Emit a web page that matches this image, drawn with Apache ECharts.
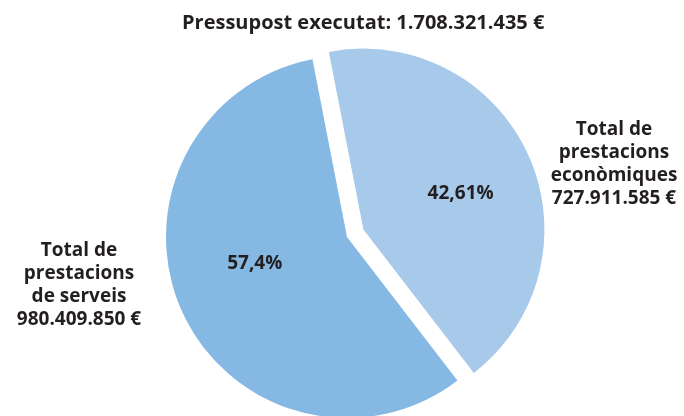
<!DOCTYPE html>
<html>
<head>
<meta charset="utf-8">
<script src="https://cdn.jsdelivr.net/npm/echarts@6/dist/echarts.min.js"></script>
<style>html,body{margin:0;padding:0;background:#fff}#c{width:684px;height:416px}</style>
</head>
<body>
<div id="c"></div>
<script>
var titleText = 'Pressupost executat: 1.708.321.435 €';
var categories = ['Total de prestacions econòmiques', 'Total de prestacions de serveis'];
var values = [727911585, 980409850];
var percentLabels = ['42,61%', '57,4%'];
var outerLabels = [
  ['Total de', 'prestacions', 'econòmiques', '727.911.585 €'],
  ['Total de', 'prestacions', 'de serveis', '980.409.850 €']
];
var colors = ['#a7c9ea', '#85b8e3'];

var FONT = '"Open Sans", sans-serif';
var TXT = '#231f20';
function block(lines, cx, cy) {
  return {
    type: 'text', x: cx, y: cy, silent: true,
    style: {
      text: lines.join('\n'), align: 'center', textAlign: 'center',
      verticalAlign: 'middle', textVerticalAlign: 'middle',
      font: 'bold 19px ' + FONT, lineHeight: 23, fill: TXT
    }
  };
}
var chart = echarts.init(document.getElementById('c'), null, {renderer: 'canvas'});
chart.setOption({
  animation: false,
  title: {
    text: titleText, left: 177, top: 8,
    textStyle: {fontFamily: FONT, fontWeight: 'bold', fontSize: 20, color: TXT}
  },
  graphic: [
    block(outerLabels[0], 614, 164),
    block(outerLabels[1], 79, 285)
  ],
  series: [{
    type: 'pie',
    center: [347, 237],
    radius: [0, 181],
    startAngle: 101,
    clockwise: true,
    selectedMode: 'multiple',
    selectedOffset: 18,
    avoidLabelOverlap: false,
    emphasis: {disabled: true},
    labelLine: {show: false},
    label: {
      show: true, position: 'inside',
      fontFamily: FONT, fontWeight: 'bold', fontSize: 19, color: TXT,
      formatter: function (p) { return percentLabels[p.dataIndex]; }
    },
    labelLayout: function (p) {
      return p.dataIndex === 0 ? {dx: 12, dy: 2} : {dx: -7, dy: -12};
    },
    data: categories.map(function (c, i) {
      return {name: c, value: values[i], selected: i === 0, itemStyle: {color: colors[i]}};
    })
  }]
});
</script>
</body>
</html>
